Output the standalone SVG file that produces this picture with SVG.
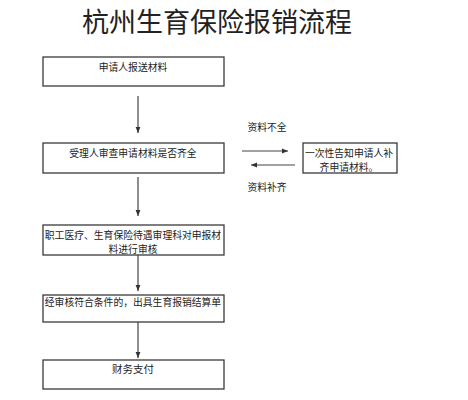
<svg xmlns="http://www.w3.org/2000/svg" width="468" height="400" viewBox="0 0 468 400">
<style>
.box{fill:#fff;stroke:#3a3a3a;stroke-width:1.3}
.t{font-family:"Noto Sans CJK SC","Noto Sans",sans-serif;font-size:9.8px;fill:#222;text-anchor:middle}
.title{font-family:"Noto Sans CJK SC","Noto Sans",sans-serif;font-size:27px;fill:#222;text-anchor:middle}
.c{stroke:#444;stroke-width:1.2;fill:none;marker-end:url(#ah)}
</style>
<defs>
<marker id="ah" viewBox="0 0 10 10" refX="10" refY="5" markerWidth="6" markerHeight="6" orient="auto" markerUnits="userSpaceOnUse">
<path d="M0,1 L10,5 L0,9 Z" fill="#333"/>
</marker>
</defs>
<rect width="468" height="400" fill="#fff"/>
<text class="title" x="217" y="32">杭州生育保险报销流程</text>
<g id="n1"><rect class="box" x="43" y="57" width="181" height="29"/><text class="t" x="133" y="71">申请人报送材料</text></g>
<g id="n2"><rect class="box" x="43" y="143" width="181" height="30"/><text class="t" x="133" y="157">受理人审查申请材料是否齐全</text></g>
<g id="n3"><rect class="box" x="303" y="143" width="94" height="30"/><text class="t" x="349" y="157">一次性告知申请人补</text><text class="t" x="349" y="171">齐申请材料。</text></g>
<g id="n4"><rect class="box" x="43" y="225" width="181" height="30"/><text class="t" x="133" y="239">职工医疗、生育保险待遇审理科对申报材</text><text class="t" x="133" y="253">料进行审核</text></g>
<g id="n5"><rect class="box" x="43" y="295" width="181" height="27"/><text class="t" x="133" y="306">经审核符合条件的，出具生育报销结算单</text></g>
<g id="n6"><rect class="box" x="43" y="360" width="181" height="29"/><text class="t" x="133" y="373" style="font-size:10.5px">财务支付</text></g>
<g id="connectors">
<line class="c" x1="138" y1="96" x2="138" y2="133"/>
<line class="c" x1="138" y1="177" x2="138" y2="216"/>
<line class="c" x1="138" y1="255" x2="138" y2="291"/>
<line class="c" x1="138" y1="322" x2="138" y2="358"/>
<line class="c" x1="242" y1="151" x2="288" y2="151"/>
<line class="c" x1="295" y1="165" x2="251" y2="165"/>
<text class="t" x="267" y="131">资料不全</text>
<text class="t" x="267" y="191">资料补齐</text>
</g>
</svg>
